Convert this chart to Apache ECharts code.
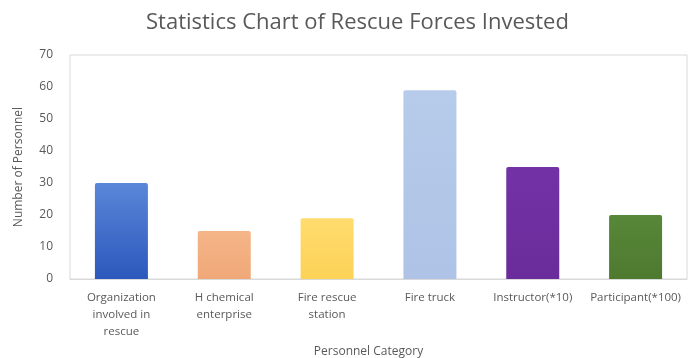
<!DOCTYPE html>
<html>
<head>
<meta charset="utf-8">
<script src="https://cdn.jsdelivr.net/npm/echarts@6/dist/echarts.min.js"></script>
<style>
html, body { margin: 0; padding: 0; background: #fff; }
#chart { width: 688px; height: 358px; }
</style>
</head>
<body>
<div id="chart"></div>
<script>
const categories = ['Organization\ninvolved in\nrescue', 'H chemical\nenterprise', 'Fire rescue\nstation', 'Fire truck', 'Instructor(*10)', 'Participant(*100)']
const values = [30, 15, 19, 59, 35, 20]
const yTicks = { min: 0, max: 70, interval: 10 }

const barColors = [
  ['#5a87d8', '#2c58bd'],
  ['#f5b588', '#f0a878'],
  ['#ffdc6e', '#fcd257'],
  ['#b7cbea', '#aec3e6'],
  ['#7332a6', '#6a2c9a'],
  ['#578738', '#4e7a30']
]

let myChart = echarts.init(document.getElementById('chart'))
myChart.setOption({
  animation: false,
  title: {
    text: 'Statistics Chart of Rescue Forces Invested',
    left: 141,
    top: 7,
    textStyle: {
      color: '#595959',
      fontSize: 22,
      fontWeight: 'normal',
      fontFamily: 'Open Sans'
    }
  },
  grid: {
    left: 70,
    right: 1,
    top: 55,
    bottom: 79,
    outerBoundsMode: 'none',
    containLabel: false,
    show: true,
    borderColor: '#d9d9d9',
    borderWidth: 1
  },
  xAxis: {
    type: 'category',
    data: categories,
    name: 'Personnel Category',
    nameLocation: 'middle',
    nameGap: 67,
    nameTextStyle: { color: '#595959', fontSize: 12, fontFamily: 'Open Sans', padding: [0, 20, 0, 0] },
    axisTick: { show: false },
    axisLine: { show: true, lineStyle: { color: '#d9d9d9' } },
    axisLabel: {
      color: '#595959',
      fontSize: 11.5,
      fontFamily: 'Open Sans',
      lineHeight: 17,
      interval: 0,
      margin: 10
    }
  },
  yAxis: {
    type: 'value',
    min: yTicks.min,
    max: yTicks.max,
    interval: yTicks.interval,
    name: 'Number of Personnel',
    nameLocation: 'middle',
    nameGap: 45,
    nameTextStyle: { color: '#595959', fontSize: 12, fontFamily: 'Open Sans' },
    splitLine: { show: false },
    axisLine: { show: false },
    axisTick: { show: false },
    axisLabel: { color: '#595959', fontSize: 12, fontFamily: 'Open Sans', margin: 17 }
  },
  series: [
    {
      type: 'bar',
      barWidth: 53,
      data: values.map((v, i) => ({
        value: v,
        itemStyle: {
          borderRadius: [2, 2, 0, 0],
          color: new echarts.graphic.LinearGradient(0, 0, 0, 1, [
            { offset: 0, color: barColors[i][0] },
            { offset: 1, color: barColors[i][1] }
          ])
        }
      }))
    }
  ]
})
</script>
</body>
</html>
